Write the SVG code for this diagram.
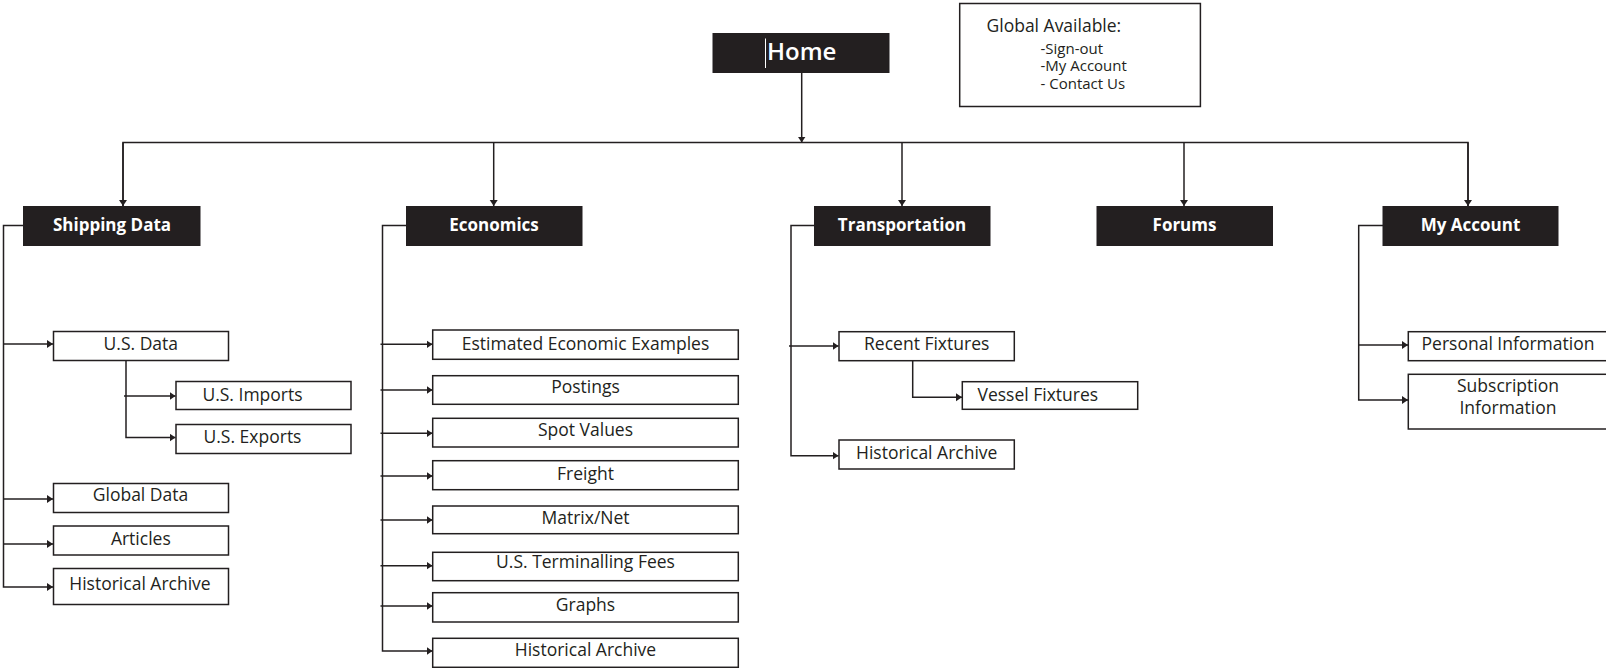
<svg xmlns="http://www.w3.org/2000/svg" width="1606" height="668" viewBox="0 0 1606 668">
<defs>
<marker id="ah" markerUnits="userSpaceOnUse" markerWidth="7" markerHeight="9" refX="6" refY="4" orient="auto">
<path d="M0,0 L6,4 L0,8 z" fill="#231f20"/>
</marker>
<style>
.dark{fill:#231f20;stroke:#231f20;stroke-width:1}
.box{fill:#fff;stroke:#231f20;stroke-width:1.5}
.t1{font-family:"Open Sans","Noto Sans",sans-serif;font-size:17px;font-weight:bold;fill:#fff;text-anchor:middle}
.t2{font-family:"Open Sans","Noto Sans",sans-serif;font-size:17.5px;fill:#231f20;text-anchor:middle}
.g1{font-family:"Open Sans","Noto Sans",sans-serif;font-size:17.5px;fill:#231f20}
.g2{font-family:"Open Sans","Noto Sans",sans-serif;font-size:15px;fill:#231f20}
.c{fill:none;stroke:#231f20;stroke-width:1.5}
.ca{fill:none;stroke:#231f20;stroke-width:1.5;marker-end:url(#ah)}
</style>
</defs>
<rect width="1606" height="668" fill="#fff"/>

<g id="connectors">
<line class="ca" x1="801.7" y1="72.5" x2="801.7" y2="142.5"/>
<polyline class="c" points="123,207 123,142.5 1468,142.5 1468,207"/>
<line class="ca" x1="123" y1="142.5" x2="123" y2="206"/>
<line class="ca" x1="493.7" y1="142.5" x2="493.7" y2="206"/>
<line class="ca" x1="902" y1="142.5" x2="902" y2="206"/>
<line class="ca" x1="1184" y1="142.5" x2="1184" y2="206"/>
<line class="ca" x1="1468" y1="142.5" x2="1468" y2="206"/>
<!-- Shipping Data -->
<polyline class="ca" points="24,225.5 3.5,225.5 3.5,587 53,587"/>
<line class="ca" x1="3.5" y1="344" x2="53" y2="344"/>
<line class="ca" x1="3.5" y1="499" x2="53" y2="499"/>
<line class="ca" x1="3.5" y1="544" x2="53" y2="544"/>
<polyline class="ca" points="126,360.5 126,437.5 175.5,437.5"/>
<line class="ca" x1="124" y1="396" x2="175.5" y2="396"/>
<!-- Economics -->
<polyline class="ca" points="406.5,225.5 382.5,225.5 382.5,651 432.5,651"/>
<line class="ca" x1="380.5" y1="344.3" x2="432.5" y2="344.3"/>
<line class="ca" x1="380.5" y1="390" x2="432.5" y2="390"/>
<line class="ca" x1="380.5" y1="433.3" x2="432.5" y2="433.3"/>
<line class="ca" x1="380.5" y1="476" x2="432.5" y2="476"/>
<line class="ca" x1="380.5" y1="520" x2="432.5" y2="520"/>
<line class="ca" x1="380.5" y1="565.7" x2="432.5" y2="565.7"/>
<line class="ca" x1="380.5" y1="606" x2="432.5" y2="606"/>
<!-- Transportation -->
<polyline class="ca" points="814.5,225.5 791,225.5 791,455.7 838.5,455.7"/>
<line class="ca" x1="789" y1="346" x2="838.5" y2="346"/>
<polyline class="ca" points="912.7,360.7 912.7,397.3 962,397.3"/>
<!-- My Account -->
<polyline class="ca" points="1383,225.5 1358.7,225.5 1358.7,400 1408,400"/>
<line class="ca" x1="1358.7" y1="345" x2="1408" y2="345"/>
</g>

<g id="home">
<rect class="dark" x="713" y="33.5" width="176" height="39"/>
<line x1="765.5" y1="38.5" x2="765.5" y2="68" stroke="#fff" stroke-width="1"/>
<text x="801.7" y="60" style="font-family:'Open Sans','Noto Sans',sans-serif;font-size:24px;font-weight:600;fill:#fff;text-anchor:middle">Home</text>
</g>

<g id="global">
<rect class="box" x="959.7" y="3.5" width="240.7" height="103"/>
<text class="g1" x="986.5" y="32.3">Global Available:</text>
<text class="g2" x="1040.5" y="53.5">-Sign-out</text>
<text class="g2" x="1040.5" y="71">-My Account</text>
<text class="g2" x="1040.5" y="88.5">- Contact Us</text>
</g>

<g id="shipping-data">
<rect class="dark" x="23.5" y="206.5" width="176.5" height="39"/>
<text class="t1" x="112" y="231">Shipping Data</text>
</g>
<g id="economics">
<rect class="dark" x="406.5" y="206.5" width="175.5" height="39"/>
<text class="t1" x="494" y="231">Economics</text>
</g>
<g id="transportation">
<rect class="dark" x="814.5" y="206.5" width="175.5" height="39"/>
<text class="t1" x="902" y="231">Transportation</text>
</g>
<g id="forums">
<rect class="dark" x="1097" y="206.5" width="175.5" height="39"/>
<text class="t1" x="1184.5" y="231">Forums</text>
</g>
<g id="my-account">
<rect class="dark" x="1383" y="206.5" width="175" height="39"/>
<text class="t1" x="1470.5" y="231">My Account</text>
</g>

<g id="us-data"><rect class="box" x="53.5" y="331.5" width="175" height="29"/><text class="t2" x="140.8" y="350">U.S. Data</text></g>
<g id="us-imports"><rect class="box" x="176" y="381.5" width="175" height="28"/><text class="t2" x="252.5" y="400.5">U.S. Imports</text></g>
<g id="us-exports"><rect class="box" x="176" y="424.5" width="175" height="29"/><text class="t2" x="252.5" y="443">U.S. Exports</text></g>
<g id="global-data"><rect class="box" x="53.5" y="483.5" width="175" height="29"/><text class="t2" x="140.5" y="501">Global Data</text></g>
<g id="articles"><rect class="box" x="53.5" y="526" width="175" height="29"/><text class="t2" x="140.8" y="545">Articles</text></g>
<g id="shipping-historical-archive"><rect class="box" x="53.5" y="568.5" width="175" height="36"/><text class="t2" x="140" y="590">Historical Archive</text></g>

<g id="estimated-economic-examples"><rect class="box" x="432.7" y="330" width="305.6" height="29.3"/><text class="t2" x="585.5" y="350">Estimated Economic Examples</text></g>
<g id="postings"><rect class="box" x="432.7" y="375.7" width="305.6" height="28.6"/><text class="t2" x="585.5" y="393">Postings</text></g>
<g id="spot-values"><rect class="box" x="432.7" y="418.3" width="305.6" height="28.7"/><text class="t2" x="585.5" y="436">Spot Values</text></g>
<g id="freight"><rect class="box" x="432.7" y="460.7" width="305.6" height="29"/><text class="t2" x="585.5" y="480">Freight</text></g>
<g id="matrix-net"><rect class="box" x="432.7" y="506" width="305.6" height="27.7"/><text class="t2" x="585.5" y="524">Matrix/Net</text></g>
<g id="us-terminalling-fees"><rect class="box" x="432.7" y="552.3" width="305.6" height="28.4"/><text class="t2" x="585.5" y="568">U.S. Terminalling Fees</text></g>
<g id="graphs"><rect class="box" x="432.7" y="592.7" width="305.6" height="29.3"/><text class="t2" x="585.5" y="611">Graphs</text></g>
<g id="economics-historical-archive"><rect class="box" x="432.7" y="638.3" width="305.6" height="29"/><text class="t2" x="585.5" y="655.5">Historical Archive</text></g>

<g id="recent-fixtures"><rect class="box" x="839" y="331.7" width="175.3" height="29"/><text class="t2" x="926.7" y="349.5">Recent Fixtures</text></g>
<g id="vessel-fixtures"><rect class="box" x="962.3" y="381.7" width="175.4" height="27.6"/><text class="t2" x="1037.8" y="401">Vessel Fixtures</text></g>
<g id="transportation-historical-archive"><rect class="box" x="839" y="440" width="175.3" height="29"/><text class="t2" x="926.7" y="459">Historical Archive</text></g>

<g id="personal-information"><rect class="box" x="1408.3" y="331.7" width="210" height="29"/><text class="t2" x="1508" y="350">Personal Information</text></g>
<g id="subscription-information"><rect class="box" x="1408.3" y="374.3" width="210" height="54.7"/><text class="t2" x="1508" y="392">Subscription</text><text class="t2" x="1508" y="414">Information</text></g>
</svg>
